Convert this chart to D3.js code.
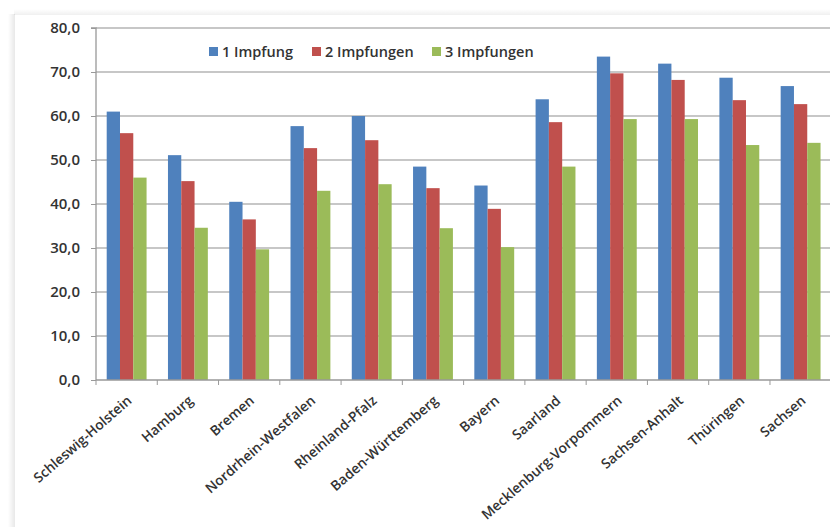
<!DOCTYPE html>
<html><head><meta charset="utf-8">
<script src="https://cdn.jsdelivr.net/npm/d3@7"></script>
<style>html,body{margin:0;padding:0;background:#fff;overflow:hidden;}svg{display:block;}</style>
</head><body>
<script>
const categories = ["Schleswig-Holstein","Hamburg","Bremen","Nordrhein-Westfalen","Rheinland-Pfalz","Baden-Württemberg","Bayern","Saarland","Mecklenburg-Vorpommern","Sachsen-Anhalt","Thüringen","Sachsen"];
const seriesNames = ["1 Impfung","2 Impfungen","3 Impfungen"];
const seriesColors = ["#4f81bd","#c0504d","#9bbb59"];
const impfung1 = [61.0,51.1,40.5,57.7,60.0,48.5,44.2,63.8,73.5,71.9,68.7,66.8];
const impfung2 = [56.1,45.2,36.5,52.7,54.5,43.6,38.9,58.6,69.7,68.2,63.6,62.7];
const impfung3 = [46.0,34.6,29.7,43.0,44.5,34.5,30.2,48.5,59.3,59.3,53.4,53.9];
const yTicks = [0,10,20,30,40,50,60,70,80];

const W = 830, H = 527;
const svg = d3.select("body").append("svg").attr("width", W).attr("height", H);

// frame shadow via gradients
const defs = svg.append("defs");
const gl = defs.append("linearGradient").attr("id","gl").attr("x1","0").attr("x2","1").attr("y1","0").attr("y2","0");
gl.append("stop").attr("offset","0").attr("stop-color","#000").attr("stop-opacity",0);
gl.append("stop").attr("offset","1").attr("stop-color","#000").attr("stop-opacity",0.09);
const gt = defs.append("linearGradient").attr("id","gt").attr("x1","0").attr("x2","0").attr("y1","0").attr("y2","1");
gt.append("stop").attr("offset","0").attr("stop-color","#000").attr("stop-opacity",0);
gt.append("stop").attr("offset","1").attr("stop-color","#000").attr("stop-opacity",0.06);
svg.append("rect").attr("x",8).attr("y",14).attr("width",7).attr("height",H-14).attr("fill","url(#gl)");
svg.append("rect").attr("x",14).attr("y",9).attr("width",W+20).attr("height",6).attr("fill","url(#gt)");
svg.append("rect").attr("x",15).attr("y",15).attr("width",W+20).attr("height",H).attr("fill","#fff");

const x0 = 96, x1 = 96 + 12*61.27;
const y = d3.scaleLinear().domain([0,80]).range([380,28]);
const x = d3.scaleBand().domain(categories).range([x0,x1]).paddingInner(0).paddingOuter(0);
const inner = d3.scaleBand().domain(seriesNames).range([10.7, x.bandwidth()-10.7]);
const font = "'Open Sans', sans-serif";

// gridlines
svg.append("g").selectAll("line").data(yTicks.filter(d=>d>0)).join("line")
  .attr("x1",x0).attr("x2",W+20).attr("y1",d=>y(d)).attr("y2",d=>y(d))
  .attr("stroke","#b4b4b4").attr("stroke-width",1.3);

// bars
const data = [impfung1, impfung2, impfung3];
const g = svg.append("g");
categories.forEach((c,i)=>{
  seriesNames.forEach((s,j)=>{
    g.append("rect").attr("x", x(c)+inner(s)).attr("width", inner.bandwidth())
      .attr("y", y(data[j][i])).attr("height", y(0)-y(data[j][i])).attr("fill", seriesColors[j]);
  });
});

// y axis
const yAxis = d3.axisLeft(y).tickValues(yTicks).tickSize(5).tickPadding(11)
  .tickFormat(d=>d3.format(".1f")(d).replace(".",","));
const ya = svg.append("g").attr("transform",`translate(${x0},0)`).call(yAxis);
ya.select(".domain").attr("stroke","#999").attr("stroke-width",1.3).attr("d",`M-5,${y(80)}H0V${y(0)}`);
ya.selectAll(".tick line").attr("stroke","#999");
ya.selectAll("text").attr("font-family",font).attr("font-size",15).attr("font-weight",600).attr("fill","#333");

// x axis
const xa = svg.append("g").attr("transform",`translate(0,${y(0)})`);
xa.append("line").attr("x1",x0).attr("x2",W+20).attr("y1",0).attr("y2",0).attr("stroke","#999").attr("stroke-width",1.3);
xa.selectAll("line.t").data(categories).join("line").attr("class","t")
  .attr("x1",(d,i)=>x0+i*x.step()).attr("x2",(d,i)=>x0+i*x.step()).attr("y1",0).attr("y2",5).attr("stroke","#999");
xa.selectAll("text").data(categories).join("text")
  .attr("transform",d=>`translate(${x(d)+x.bandwidth()/2+6},22) rotate(-41)`)
  .attr("text-anchor","end").attr("font-family",font).attr("font-size",13.8).attr("font-weight",600)
  .attr("fill","#333").text(d=>d);

// legend
const lx = [209, 312, 432];
const leg = svg.append("g");
seriesNames.forEach((s,i)=>{
  leg.append("rect").attr("x",lx[i]).attr("y",47).attr("width",9).attr("height",9).attr("fill",seriesColors[i]);
  leg.append("text").attr("x",lx[i]+13).attr("y",57).attr("font-family",font)
    .attr("font-size",14.5).attr("font-weight",600).attr("fill","#333").text(s);
});
</script>
</body></html>
